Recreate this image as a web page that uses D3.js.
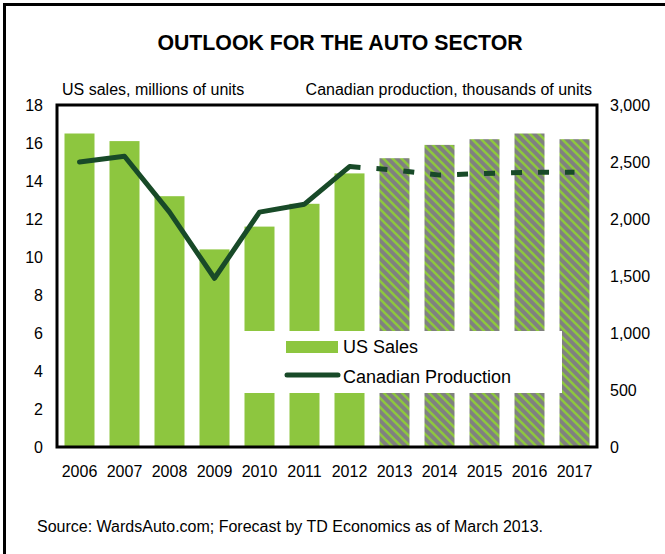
<!DOCTYPE html>
<html>
<head>
<meta charset="utf-8">
<script src="https://cdn.jsdelivr.net/npm/d3@7"></script>
<style>
  html, body { margin: 0; padding: 0; background: #fff; }
  svg { display: block; font-family: "Liberation Sans", Arial, sans-serif; }
</style>
</head>
<body>
<svg id="chart" width="665" height="554"></svg>
<script>
// Calendar years on the x axis
const years = ['2006', '2007', '2008', '2009', '2010', '2011', '2012', '2013', '2014', '2015', '2016', '2017'];
// US light-vehicle sales, millions of units (2013 onward is forecast)
const usSales = [16.5, 16.1, 13.2, 10.4, 11.6, 12.8, 14.4, 15.2, 15.9, 16.2, 16.5, 16.2];
// Canadian vehicle production, thousands of units
const canadianProduction = [2500, 2550, 2060, 1480, 2060, 2130, 2460, 2430, 2385, 2400, 2410, 2410];
const lastActualYear = '2012';
const leftTicks = [0, 2, 4, 6, 8, 10, 12, 14, 16, 18];
const rightTicks = [0, 500, 1000, 1500, 2000, 2500, 3000];

const GREEN = '#8dc63f';
const GREY = '#808080';
const DARK = '#184a28';

const svg = d3.select('#chart');
const plot = { left: 57, right: 597, top: 105, bottom: 447 };

const x = d3.scaleBand().domain(years).range([plot.left, plot.right])
  .paddingInner(1 / 3).paddingOuter(1 / 6);
const yL = d3.scaleLinear().domain([0, 18]).range([plot.bottom, plot.top]);
const yR = d3.scaleLinear().domain([0, 3000]).range([plot.bottom, plot.top]);

// Hatched fill for forecast bars
const P = 9;
const defs = svg.append('defs');
const pat = defs.append('pattern').attr('id', 'forecast')
  .attr('patternUnits', 'userSpaceOnUse').attr('width', P).attr('height', P);
pat.append('rect').attr('width', P).attr('height', P).attr('fill', GREY);
pat.append('path').attr('d', `M-2,-2 L${P + 2},${P + 2} M-2,${P - 2} L2,${P + 2} M${P - 2},-2 L${P + 2},2`)
  .attr('stroke', GREEN).attr('stroke-width', 2.6);

// Outer frame
svg.append('rect').attr('x', 4.5).attr('y', 4.5).attr('width', 700).attr('height', 600)
  .attr('fill', 'none').attr('stroke', '#000').attr('stroke-width', 3);

// Title
svg.append('text').attr('x', 340).attr('y', 50).attr('text-anchor', 'middle')
  .attr('font-size', 21.3).attr('font-weight', 'bold').text('OUTLOOK FOR THE AUTO SECTOR');

// Axis titles
svg.append('text').attr('x', 62).attr('y', 95).attr('font-size', 16)
  .text('US sales, millions of units');
svg.append('text').attr('x', 592).attr('y', 95).attr('text-anchor', 'end').attr('font-size', 16)
  .text('Canadian production, thousands of units');

// Bars
const isForecast = d => d > lastActualYear;
svg.append('g').selectAll('rect').data(years).join('rect')
  .attr('x', d => x(d))
  .attr('width', x.bandwidth())
  .attr('y', (d, i) => yL(usSales[i]))
  .attr('height', (d, i) => yL(0) - yL(usSales[i]))
  .attr('fill', d => isForecast(d) ? 'url(#forecast)' : GREEN);

// Line: actual (solid) and forecast (dashed)
const pts = years.map((d, i) => [x(d) + x.bandwidth() / 2, yR(canadianProduction[i])]);
const split = years.indexOf(lastActualYear);
const line = d3.line();
svg.append('path').attr('d', line(pts.slice(0, split + 1)))
  .attr('fill', 'none').attr('stroke', DARK).attr('stroke-width', 5)
  .attr('stroke-linejoin', 'round').attr('stroke-linecap', 'round');
svg.append('path').attr('d', line(pts.slice(split)))
  .attr('fill', 'none').attr('stroke', DARK).attr('stroke-width', 5)
  .attr('stroke-dasharray', '11 16');

// Legend
const lg = svg.append('g');
lg.append('rect').attr('x', 230).attr('y', 331).attr('width', 332).attr('height', 62).attr('fill', '#fff');
lg.append('rect').attr('x', 286).attr('y', 341).attr('width', 52).attr('height', 12).attr('fill', GREEN);
lg.append('text').attr('x', 343).attr('y', 353).attr('font-size', 18).text('US Sales');
lg.append('line').attr('x1', 287).attr('x2', 338).attr('y1', 375).attr('y2', 375)
  .attr('stroke', DARK).attr('stroke-width', 5).attr('stroke-linecap', 'round');
lg.append('text').attr('x', 343).attr('y', 383).attr('font-size', 18).text('Canadian Production');

// Plot frame
svg.append('rect').attr('x', plot.left).attr('y', plot.top)
  .attr('width', plot.right - plot.left).attr('height', plot.bottom - plot.top)
  .attr('fill', 'none').attr('stroke', '#000').attr('stroke-width', 3);

// Axes (labels only)
const leftAxis = d3.axisLeft(yL).tickValues(leftTicks).tickSize(0).tickPadding(14);
const gL = svg.append('g').attr('transform', `translate(${plot.left},0)`).call(leftAxis);
const rightAxis = d3.axisRight(yR).tickValues(rightTicks).tickSize(0).tickPadding(13)
  .tickFormat(d3.format(','));
const gR = svg.append('g').attr('transform', `translate(${plot.right},0)`).call(rightAxis);
const bottomAxis = d3.axisBottom(x).tickSize(0).tickPadding(19);
const gB = svg.append('g').attr('transform', `translate(0,${plot.bottom})`).call(bottomAxis);
[gL, gR, gB].forEach(g => {
  g.select('.domain').remove();
  g.selectAll('text').attr('font-size', 16).attr('fill', '#000')
    .attr('font-family', '"Liberation Sans", Arial, sans-serif');
});

// Source note
svg.append('text').attr('x', 37).attr('y', 532).attr('font-size', 16)
  .text('Source: WardsAuto.com; Forecast by TD Economics as of March 2013.');
</script>
</body>
</html>
